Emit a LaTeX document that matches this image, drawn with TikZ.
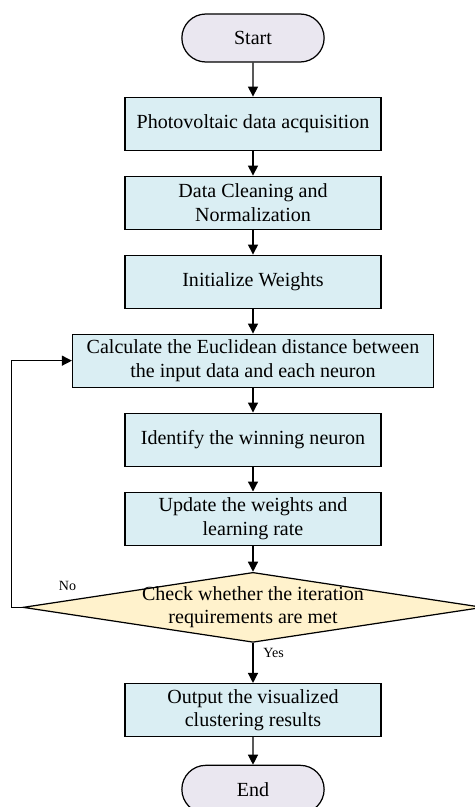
\documentclass[tikz,border=0pt]{standalone}
\usepackage{fontspec}
\setmainfont{Liberation Serif}
\usetikzlibrary{arrows.meta,positioning,shapes.geometric,shapes.misc,calc}
\definecolor{boxblue}{HTML}{DAEEF3}
\definecolor{decyellow}{HTML}{FFF2CC}
\definecolor{termgray}{HTML}{EAE7F0}

\begin{document}
\begin{tikzpicture}[
    node distance=0.495cm,
    font=\fontsize{11.4}{13.2}\selectfont,
    box/.style={draw, fill=boxblue, align=center, line width=0.7pt,
                minimum width=5.12cm, minimum height=1.06cm, inner sep=2pt},
    widebox/.style={box, minimum width=7.22cm},
    term/.style={draw, fill=termgray, rounded rectangle, line width=0.7pt,
                 minimum width=3.08cm, minimum height=0.96cm},
    decision/.style={draw, fill=decyellow, diamond, aspect=6.57, align=center,
                     line width=0.7pt, inner xsep=0pt, inner ysep=-2pt,
                     minimum width=9.2cm, minimum height=1.4cm},
    arr/.style={-{Triangle[length=2mm, width=2mm]}, line width=0.7pt}
]

\useasboundingbox (-5.06,0.76) rectangle (4.44,-15.38);

\node[term] (start) {Start};

\node[box, below=0.68cm of start] (acq)
    {Photovoltaic data acquisition};

\node[box, below=of acq] (clean)
    {Data Cleaning and\\ Normalization};

\node[box, below=of clean] (init)
    {Initialize Weights};

\node[widebox, below=of init] (dist)
    {Calculate the Euclidean distance between\\
     the input data and each neuron};

\node[box, below=of dist] (winner)
    {Identify the winning neuron};

\node[box, below=of winner] (update)
    {Update the weights and\\ learning rate};

\node[decision, below=0.52cm of update] (check)
    {Check whether the iteration\\ requirements are met};

\node[box, below=0.8cm of check] (result)
    {Output the visualized\\ clustering results};

\node[term, below=0.55cm of result] (finish) {End};

\draw[arr] (start) -- (acq);
\draw[arr] (acq) -- (clean);
\draw[arr] (clean) -- (init);
\draw[arr] (init) -- (dist);
\draw[arr] (dist) -- (winner);
\draw[arr] (winner) -- (update);
\draw[arr] (update) -- (check);
\draw[arr] (check) -- node[pos=0.25, right, xshift=0.08cm, font=\fontsize{8}{9}\selectfont] {Yes} (result);
\draw[arr] (result) -- (finish);

% loop back when not converged
\coordinate[left=0.22cm of check.west] (back);
\draw[arr] (check.west) node[anchor=south west, xshift=0.6cm, yshift=0.2cm, font=\fontsize{8}{9}\selectfont] {No}
    -- (back) |- (dist.west);

\end{tikzpicture}
\end{document}
